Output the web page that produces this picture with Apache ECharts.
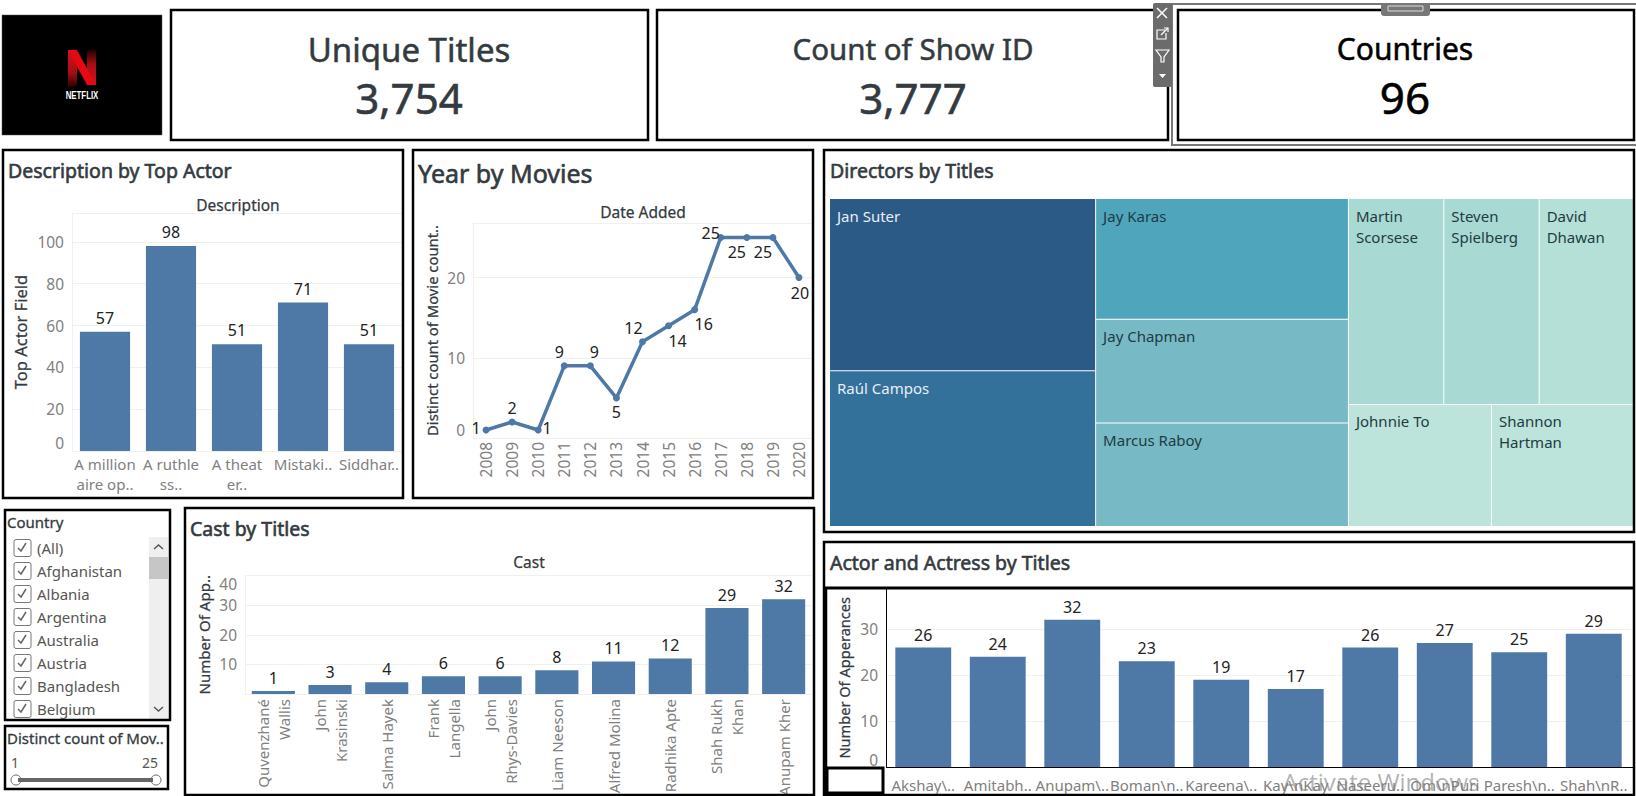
<!DOCTYPE html>
<html>
<head>
<meta charset="utf-8">
<style>html,body{margin:0;padding:0;background:#fff;overflow:hidden}#c{width:1636px;height:796px}</style>
<script src="https://cdn.jsdelivr.net/npm/echarts@6/dist/echarts.min.js"></script>
</head>
<body>
<div id="c"></div>
<script>
// ---------- data ----------
const kpiTitles = ['Unique Titles', 'Count of Show ID', 'Countries'];
const kpiValues = ['3,754', '3,777', '96'];

const descCategories = ['A million\naire op..', 'A ruthle\nss..', 'A theat\ner..', 'Mistaki..', 'Siddhar..'];
const descValues = [57, 98, 51, 71, 51];

const years = ['2008','2009','2010','2011','2012','2013','2014','2015','2016','2017','2018','2019','2020'];
const yearValues = [1, 2, 1, 9, 9, 5, 12, 14, 16, 25, 25, 25, 20];
const yearLabelNudges = [[-10,-2],[0,-14],[9,-2],[-5,-14],[4,-14],[0,14],[-9,-14],[9,15],[9,14],[-10,-4],[-10,15],[-10,15],[1,15]];

const directors = ['Jan Suter','Raúl Campos','Jay Karas','Jay Chapman','Marcus Raboy','Martin Scorsese','Steven Spielberg','David Dhawan','Johnnie To','Shannon Hartman'];
const directorValues = [21, 19, 14, 12, 12, 9, 9, 9, 8, 8];
const directorColors = ['#2c5a87','#33709a','#4fa6bc','#77bac6','#77bac6','#a9d9d3','#a9d9d3','#b5e0d7','#bce4da','#bce4da'];
const wrappedDirectors = ['Martin Scorsese','Steven Spielberg','David Dhawan','Shannon Hartman'];

const castCategories = ['Quvenzhané\nWallis','John\nKrasinski','Salma Hayek','Frank\nLangella','John\nRhys-Davies','Liam Neeson','Alfred Molina','Radhika Apte','Shah Rukh\nKhan','Anupam Kher'];
const castValues = [1, 3, 4, 6, 6, 8, 11, 12, 29, 32];

const actorCategories = ['Akshay\\..','Amitabh..','Anupam\\..','Boman\\n..','Kareena\\..','Kay\\nKay','Naseeru..','Om\\nPuri','Paresh\\n..','Shah\\nR..'];
const actorValues = [26, 24, 32, 23, 19, 17, 26, 27, 25, 29];

const countries = ['(All)','Afghanistan','Albania','Argentina','Australia','Austria','Bangladesh','Belgium'];

// ---------- style ----------
const FONT = '"Noto Sans","Open Sans",sans-serif';
const BAR = '#4e78a6', INK = '#333a40', GREY = '#808080', GRID = '#f0f0f0';

function txt(x, y, s, size, opt) {
  opt = opt || {};
  const fill = opt.fill || INK;
  const el = {type:'text', x, y, z: opt.z || 5, rotation: opt.rotation || 0, scaleX: opt.scaleX || 1, style:{
    text:s, fontFamily:opt.family||FONT, fontSize:size, fontWeight:opt.weight||'normal',
    fill, align:opt.align||'left', verticalAlign:'middle', opacity:opt.opacity==null?1:opt.opacity}};
  if (opt.med) { el.style.stroke = fill; el.style.lineWidth = opt.med; }
  return el;
}
function box(x, y, w, h, opt) {
  opt = opt || {};
  return {type:'rect', z:opt.z||4, shape:{x,y,width:w,height:h,r:opt.r||0},
    style:{fill:opt.fill||'none', stroke:opt.stroke||'#000', lineWidth:opt.lw==null?2.5:opt.lw}};
}
function line(x1,y1,x2,y2,stroke,lw,z){return {type:'line',z:z||6,shape:{x1,y1,x2,y2},style:{stroke,lineWidth:lw}};}
function poly(points,opt){return {type:opt.closed?'polygon':'polyline',z:opt.z||6,shape:{points},style:opt.style};}

const g = [];
// logo
g.push(box(2,15,160,120,{fill:'#000',stroke:'#555',lw:0.5}));
g.push(poly([[68,50],[77,50],[77,85],[68,88]],{closed:true,style:{fill:{type:'linear',x:0,y:0,x2:0,y2:1,colorStops:[{offset:0,color:'#d8111b'},{offset:.6,color:'#a80d14'},{offset:1,color:'#200203'}]}}}));
g.push(poly([[87,50],[96,50],[96,85],[87,85]],{closed:true,style:{fill:{type:'linear',x:0,y:0,x2:0,y2:1,colorStops:[{offset:0,color:'#200203'},{offset:.4,color:'#a80d14'},{offset:1,color:'#d8111b'}]}}}));
g.push(poly([[68,50],[77,50],[96,85],[87,85]],{closed:true,z:7,style:{fill:'#e50914'}}));
g.push(txt(82,95,'NETFLIX',11.5,{family:'"Liberation Sans",sans-serif',weight:'bold',fill:'#fff',align:'center',scaleX:0.68}));

// KPI panels
const kpiBoxes = [[171,10,477,130],[657,10,511,130],[1178,10,456,130]];
const kpiCenters = [409, 913, 1405];
const kpiTitleSizes = [33, 29.5, 30];
const kpiTitleY = [49, 48, 48];
const kpiValueSizes = [42, 42, 44];
kpiBoxes.forEach((b,i)=>{
  g.push(box(b[0],b[1],b[2],b[3]));
  const c = i===2 ? '#000' : INK;
  g.push(txt(kpiCenters[i],kpiTitleY[i],kpiTitles[i],kpiTitleSizes[i],{align:'center',fill:c,med:0.5}));
  g.push(txt(kpiCenters[i],97,kpiValues[i],kpiValueSizes[i],{align:'center',fill:c,med:0.6}));
});

// selected zone chrome
g.push(box(1172,4,470,141,{stroke:'#777',lw:2,z:3}));
g.push(box(1153,3,19,84,{fill:'#6b6b6b',stroke:'#6b6b6b',lw:0,r:2,z:7}));
g.push(line(1157,8,1167,18,'#fff',1.5,8), line(1167,8,1157,18,'#fff',1.5,8));
g.push(poly([[1165,30],[1157,30],[1157,39],[1166,39],[1166,33]],{z:8,style:{fill:'none',stroke:'#fff',lineWidth:1.2}}));
g.push(line(1161,35,1168,28,'#fff',1.2,8), poly([[1164,28],[1168,28],[1168,32]],{z:8,style:{fill:'none',stroke:'#fff',lineWidth:1.2}}));
g.push(poly([[1156,50],[1169,50],[1164,57],[1164,62],[1161,62],[1161,57]],{closed:true,z:8,style:{fill:'none',stroke:'#fff',lineWidth:1.2}}));
g.push(poly([[1159,74],[1166,74],[1162.5,78]],{closed:true,z:8,style:{fill:'#fff'}}));
g.push(box(1381,3,49,13,{fill:'#777',stroke:'#777',lw:0,r:3,z:7}));
g.push(box(1388,6,35,5,{fill:'none',stroke:'#ddd',lw:1,z:8}));

// chart panels
[[3,150,400,348],[413,150,400,348],[824,150,810,382],[185,508,629,287],[824,542,810,253]]
  .forEach(p=>g.push(box(p[0],p[1],p[2],p[3])));

// panel titles
g.push(txt(8,170,'Description by Top Actor',19.5,{med:0.6}));
g.push(txt(418,173,'Year by Movies',25,{med:0.6}));
g.push(txt(830,170,'Directors by Titles',19.5,{med:0.6}));
g.push(txt(190,528,'Cast by Titles',19.5,{med:0.6}));
g.push(txt(830,562,'Actor and Actress by Titles',19.5,{med:0.6}));
// header captions
g.push(txt(238,205,'Description',15.5,{align:'center',med:0.25}));
g.push(txt(643,212,'Date Added',15.5,{align:'center',med:0.25}));
g.push(txt(529,562,'Cast',15.5,{align:'center',med:0.25}));

// inner frame of the actor chart
g.push(line(825.5,587,825.5,794,'#000',3.5), line(825,588,1634,588,'#000',3));
g.push(line(886.5,588,886.5,767,'#000',1), line(886,767.5,1634,767.5,'#000',1));
g.push(box(827,768,56,25,{lw:3}));

// country filter
g.push(box(5,510,165,210));
g.push(txt(7,522,'Country',15,{med:0.3}));
g.push({type:'rect',z:3,shape:{x:149,y:537,width:19,height:182},style:{fill:'#efefef'}});
g.push({type:'rect',z:3,shape:{x:149,y:557,width:19,height:22},style:{fill:'#c6c6c6'}});
g.push(poly([[154,549],[158.5,545],[163,549]],{style:{fill:'none',stroke:'#555',lineWidth:1.5}}));
g.push(poly([[154,707],[158.5,711],[163,707]],{style:{fill:'none',stroke:'#555',lineWidth:1.5}}));
countries.forEach((c,i)=>{
  const y = 548 + i*23;
  g.push(box(14,y-8.5,17,17,{stroke:'#777',lw:1,r:2,fill:'#fff'}));
  g.push(poly([[18,y],[21,y+3],[26,y-5]],{style:{fill:'none',stroke:'#666',lineWidth:1.5}}));
  g.push(txt(37,y,c,15,{fill:'#555'}));
});

// slider filter
g.push(box(5,726,163,63));
g.push(txt(7,738,'Distinct count of Mov..',15,{med:0.3}));
g.push(txt(11,762,'1',14,{fill:'#555'}));
g.push(txt(158,762,'25',14,{fill:'#555',align:'right'}));
g.push(line(18,780,153,780,'#666',4));
g.push({type:'circle',z:5,shape:{cx:16,cy:780,r:5},style:{fill:'#fff',stroke:'#666',lineWidth:1}});
g.push({type:'circle',z:5,shape:{cx:156,cy:780,r:5},style:{fill:'#fff',stroke:'#666',lineWidth:1}});

// OS watermark
g.push(txt(1381,781,'Activate Windows',24,{align:'center',fill:'#808080',opacity:0.6,z:20,family:'"Open Sans",sans-serif'}));

// ---------- axes ----------
function valueAxis(gridIndex, max, interval, name, nameGap, nameSize, labelExtra) {
  return {type:'value', gridIndex, min:0, max, interval, name, nameLocation:'middle', nameGap, nameRotate:90,
    nameTextStyle:{color:INK, fontSize:nameSize, fontFamily:FONT, fontWeight:'normal', textBorderColor:INK, textBorderWidth:0.25},
    axisLine:{show:true,lineStyle:{color:GRID}}, axisTick:{show:false},
    splitLine:{lineStyle:{color:GRID,width:1}},
    axisLabel:Object.assign({color:GREY, fontSize:15.5, fontFamily:FONT, margin:8, verticalAlignMinLabel:'bottom',
      formatter:v=>(v%interval===0?String(v):'')}, labelExtra||{})};
}
function catAxis(gridIndex, data, extraLabel) {
  return {type:'category', gridIndex, data, axisTick:{show:false}, axisLine:{show:true,lineStyle:{color:GRID}},
    axisLabel:Object.assign({color:GREY, fontSize:15, fontFamily:FONT, interval:0, hideOverlap:false, lineHeight:21},extraLabel||{})};
}
function barSeries(i, data, width, dist) {
  return {type:'bar', xAxisIndex:i, yAxisIndex:i, data, barWidth:width, itemStyle:{color:BAR}, silent:true,
    label:{show:true, position:'top', distance:dist, color:'#222', fontSize:16, fontFamily:FONT}};
}

const option = {
  backgroundColor:'#fff', animation:false,
  textStyle:{fontFamily:FONT},
  grid:[
    {left:72, top:213, width:330, height:238, outerBoundsMode:'none'},
    {left:473, top:223, width:339, height:215, outerBoundsMode:'none'},
    {left:245, top:575.5, width:567, height:118.5, outerBoundsMode:'none'},
    {left:886, top:588, width:745, height:179.5, outerBoundsMode:'none'}
  ],
  xAxis:[
    catAxis(0, descCategories, {margin:3, lineHeight:20}),
    catAxis(1, years, {rotate:90, margin:4, fontSize:15.5}),
    catAxis(2, castCategories, {rotate:90, margin:5, fontSize:15}),
    catAxis(3, actorCategories, {margin:7, fontSize:15})
  ],
  yAxis:[
    valueAxis(0, 113.8, 20, 'Top Actor Field', 43, 16.5),
    valueAxis(1, 26.8, 10, 'Distinct count of Movie count..', 34, 14.8),
    valueAxis(2, 40, 10, 'Number Of App..', 34, 15, {verticalAlignMaxLabel:'top',showMinLabel:false}),
    valueAxis(3, 38.9, 10, 'Number Of Apperances', 35, 14.6)
  ],
  series:[
    barSeries(0, descValues, '76%', 6),
    {type:'line', xAxisIndex:1, yAxisIndex:1, silent:true, symbol:'circle', symbolSize:7,
      lineStyle:{color:BAR,width:3.5}, itemStyle:{color:BAR},
      data:yearValues.map((v,i)=>({value:v,label:{show:true,position:'inside',offset:yearLabelNudges[i],color:'#222',fontSize:16,fontFamily:FONT,formatter:'{c}'}}))},
    barSeries(2, castValues, '76%', 5),
    barSeries(3, actorValues, '75%', 5),
    {type:'treemap', left:830, top:199, width:804, height:327, roam:false, nodeClick:false, silent:true, sort:false,
      breadcrumb:{show:false}, label:{show:true}, upperLabel:{show:false},
      levels:[{itemStyle:{gapWidth:1,borderWidth:0,borderColor:'#fff'}}],
      data:directors.map((n,i)=>({name:n,value:directorValues[i],
        itemStyle:{color:directorColors[i],borderWidth:0},
        label:{show:true,position:'insideTopLeft',padding:[6,0,0,7],distance:0,fontSize:15,lineHeight:21,fontFamily:FONT,
          color:i<2?'#e8eff5':'#1f3b44',overflow:'none',
          formatter:p=>wrappedDirectors.includes(p.name)?p.name.replace(' ','\n'):p.name}}))}
  ],
  graphic:{elements:g}
};
const chart = echarts.init(document.getElementById('c'), null, {renderer:'svg', width:1636, height:796});
chart.setOption(option);
</script>
</body>
</html>
